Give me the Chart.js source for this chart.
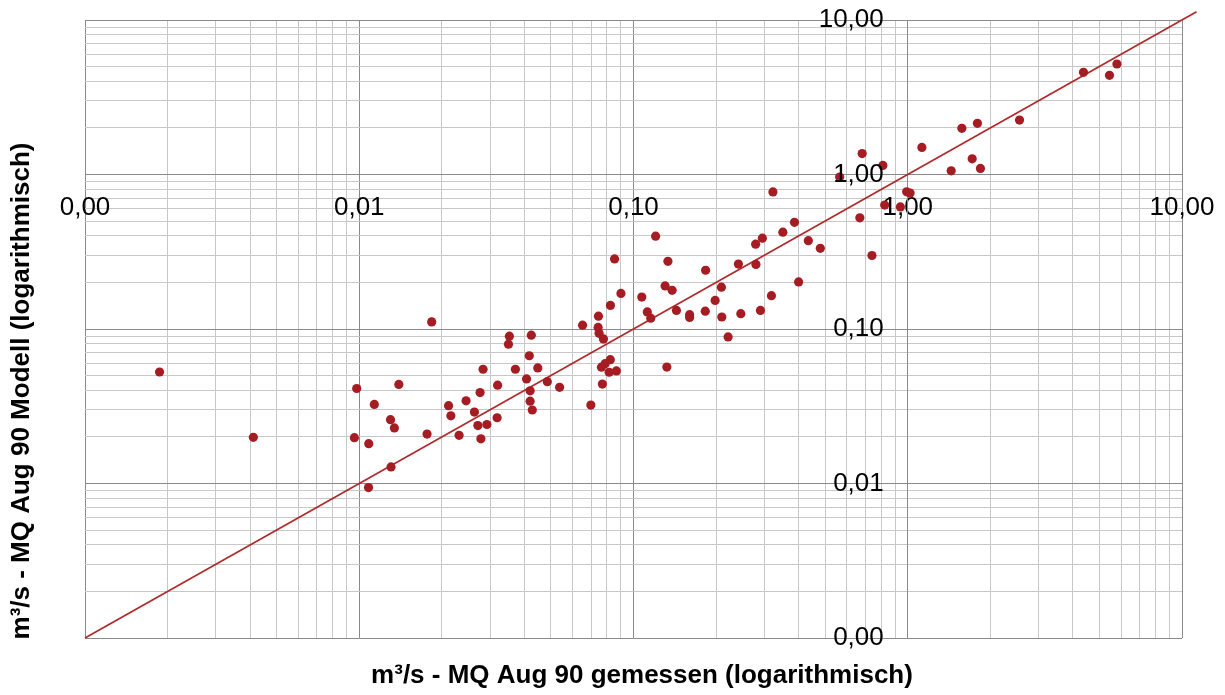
<!DOCTYPE html>
<html lang="de">
<head>
<meta charset="utf-8">
<title>MQ Aug 90 – Modell vs. gemessen</title>
<script src="https://cdn.jsdelivr.net/npm/chart.js@4.4.1/dist/chart.umd.min.js"></script>
<style>
  html, body { margin: 0; padding: 0; background: #fff; }
  #wrap { width: 1225px; height: 695px; }
</style>
</head>
<body>
<div id="wrap"><canvas id="mqChart" width="1225" height="695"></canvas></div>
<script>
/* ============================================
   MQ Aug 90 — gemessen vs. Modell (log-log)
   ============================================ */

// ---- Data ----
const gemessen = [
  0.00187, 0.00411, 0.00979, 0.00960, 0.01083, 0.01081, 0.01135, 0.0130, 0.01343, 0.01306,
  0.01394, 0.01767, 0.01837, 0.02117, 0.02158, 0.02312, 0.02452, 0.0263, 0.02707, 0.02777,
  0.02758, 0.02828, 0.0292, 0.03182, 0.03195, 0.03527, 0.0350, 0.0424, 0.04169, 0.0371,
  0.04477, 0.04074, 0.04198, 0.04198, 0.04275, 0.0485, 0.05377, 0.0652, 0.0745, 0.0824,
  0.0743, 0.0749, 0.0777, 0.0764, 0.0788, 0.0823, 0.0815, 0.0866, 0.0770, 0.0699,
  0.0853, 0.0900, 0.1072, 0.1204, 0.1123, 0.1156, 0.1335, 0.1304, 0.1383, 0.1434,
  0.1602, 0.1602, 0.1323, 0.1832, 0.1827, 0.1985, 0.2092, 0.2099, 0.2213, 0.2413,
  0.2462, 0.2788, 0.2795, 0.2950, 0.2903, 0.3184, 0.3224, 0.3504, 0.3863, 0.400,
  0.434, 0.480, 0.5645, 0.6688, 0.682, 0.7405, 0.8115, 0.824, 0.940, 0.991,
  1.020, 1.126, 1.440, 1.575, 1.718, 1.795, 1.841, 2.556, 4.373, 5.44, 5.79
];
const modell = [
  0.0527, 0.0199, 0.0412, 0.0198, 0.0181, 0.00941, 0.0325, 0.0259, 0.0229, 0.0128,
  0.0438, 0.0209, 0.1112, 0.0319, 0.0274, 0.0205, 0.0343, 0.0290, 0.0237, 0.01947,
  0.0388, 0.0549, 0.0241, 0.02665, 0.0433, 0.0898, 0.0797, 0.0912, 0.0671, 0.0549,
  0.0560, 0.0475, 0.0398, 0.0341, 0.0299, 0.0456, 0.0419, 0.1058, 0.1210, 0.1422,
  0.1023, 0.0937, 0.0862, 0.0566, 0.0596, 0.0633, 0.0525, 0.0535, 0.0440, 0.0322,
  0.284, 0.170, 0.161, 0.399, 0.129, 0.1175, 0.274, 0.190, 0.178, 0.1318,
  0.1238, 0.1187, 0.0567, 0.240, 0.1304, 0.153, 0.1865, 0.1196, 0.0888, 0.263,
  0.1256, 0.354, 0.2617, 0.387, 0.1318, 0.1643, 0.771, 0.4236, 0.490, 0.2016,
  0.373, 0.3326, 0.962, 0.524, 1.366, 0.299, 1.145, 0.634, 0.617, 0.773,
  0.758, 1.498, 1.057, 1.989, 1.264, 2.143, 1.095, 2.25, 4.585, 4.385, 5.19
];

// 1:1 line
const lineX = [0.001, 11.3];
const lineY = [0.001, 11.3];

// ---- Axis ticks ----
const decades      = [0.001, 0.01, 0.1, 1, 10];
const decadeLabels = ['0,00', '0,01', '0,10', '1,00', '10,00'];
const minorSteps   = [1, 2, 3, 4, 5, 6, 7, 8, 9];

const gridValues = decades.slice(0, -1)
  .flatMap(d => minorSteps.map(k => d * k))
  .concat(decades[decades.length - 1]);

const isDecade = v => Math.abs(Math.log10(v) - Math.round(Math.log10(v))) < 1e-6;
const decadeLabel = v => {
  if (!isDecade(v)) return '';
  const i = decades.findIndex(d => Math.abs(Math.log10(d) - Math.log10(v)) < 1e-6);
  return i >= 0 ? decadeLabels[i] : '';
};

const FONT  = '"Liberation Sans", Arial, sans-serif';
const RED   = '#a51d22';
const MAJOR = '#8a8a8a';
const MINOR = '#c8c8c8';

// ---- Axis titles + y labels (axes cross in the middle, so drawn by hand) ----
const axisExtras = {
  id: 'axisExtras',
  afterDraw(chart) {
    const { ctx, scales } = chart;
    ctx.save();
    ctx.fillStyle = '#000';

    // y tick labels, right-aligned left of the x = 1 line
    ctx.font = '26px ' + FONT;
    ctx.textAlign = 'right';
    ctx.textBaseline = 'middle';
    const xCross = scales.x.getPixelForValue(1);
    decades.forEach((d, i) => {
      ctx.fillText(decadeLabels[i], xCross - 24, scales.y.getPixelForValue(d));
    });

    // titles
    ctx.font = 'bold 26px ' + FONT;
    ctx.textAlign = 'center';
    ctx.fillText('m³/s - MQ Aug 90 gemessen (logarithmisch)', 642, 676);
    ctx.translate(22, 391);
    ctx.rotate(-Math.PI / 2);
    ctx.fillText('m³/s - MQ Aug 90 Modell (logarithmisch)', 0, 0);
    ctx.restore();
  }
};

const logAxis = (crossAxis, showLabels) => ({
  type: 'logarithmic',
  min: decades[0],
  max: decades[decades.length - 1],
  position: crossAxis,
  afterBuildTicks: scale => { scale.ticks = gridValues.map(v => ({ value: v })); },
  afterFit: scale => {
    scale.paddingTop = 0; scale.paddingBottom = 0;
    scale.paddingLeft = 0; scale.paddingRight = 0;
  },
  grid: {
    drawTicks: false,
    lineWidth: 1,
    color: c => (c.tick && isDecade(c.tick.value)) ? MAJOR : MINOR
  },
  border: { display: true, color: MAJOR, width: 1 },
  ticks: {
    autoSkip: false,
    maxRotation: 0,
    minRotation: 0,
    padding: 18,
    color: '#000',
    font: { family: FONT, size: 26 },
    callback: v => showLabels ? decadeLabel(v) : ''
  }
});

// ---- Chart ----
new Chart(document.getElementById('mqChart'), {
  type: 'scatter',
  data: {
    datasets: [
      {
        label: 'MQ Aug 90',
        data: gemessen.map((x, i) => ({ x, y: modell[i] })),
        backgroundColor: RED,
        borderColor: RED,
        borderWidth: 0,
        pointRadius: 4.6,
        order: 1
      },
      {
        label: '1:1',
        type: 'line',
        data: lineX.map((x, i) => ({ x, y: lineY[i] })),
        borderColor: '#b02a2a',
        borderWidth: 1.7,
        pointRadius: 0,
        fill: false,
        clip: false,
        order: 2
      }
    ]
  },
  options: {
    responsive: false,
    animation: false,
    layout: { padding: { left: 85, top: 20, right: 43, bottom: 57 } },
    plugins: {
      legend: { display: false },
      tooltip: { enabled: false }
    },
    scales: {
      x: logAxis({ y: 1 }, true),
      y: logAxis({ x: 1 }, false)
    }
  },
  plugins: [axisExtras]
});
</script>
</body>
</html>
